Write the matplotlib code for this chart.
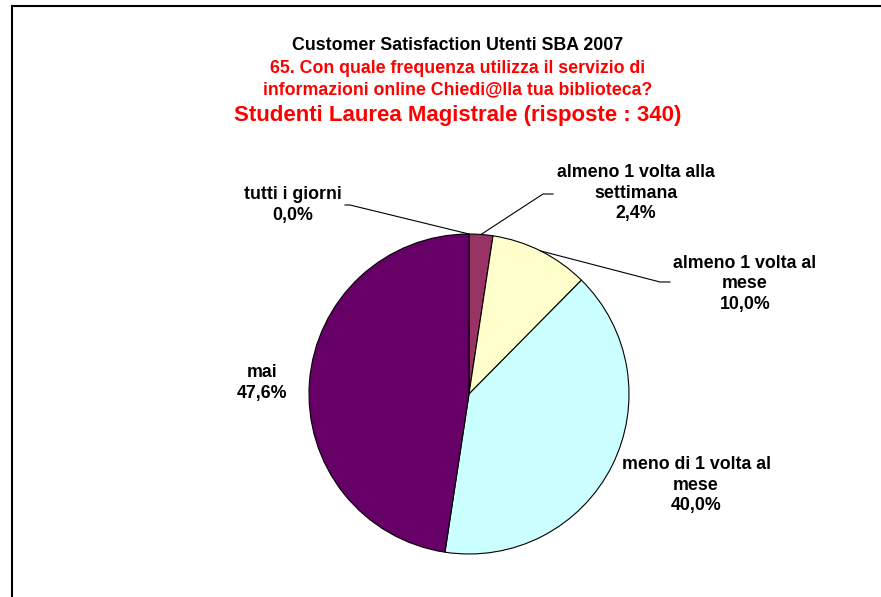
import numpy as np
import matplotlib
matplotlib.use("Agg")
import matplotlib.pyplot as plt
from matplotlib.lines import Line2D

plt.rcParams['font.family'] = ['Liberation Sans', 'DejaVu Sans']

# Data
categories = ['tutti i giorni', 'almeno 1 volta alla\nsettimana', 'almeno 1 volta al\nmese',
              'meno di 1 volta al\nmese', 'mai']
values = [0.0, 2.4, 10.0, 40.0, 47.6]
colors = ['#3366CC', '#993366', '#FFFFCC', '#CCFFFF', '#660066']

title_1 = 'Customer Satisfaction Utenti SBA 2007'
title_2 = '65. Con quale frequenza utilizza il servizio di\ninformazioni online Chiedi@lla tua biblioteca?'
title_3 = 'Studenti Laurea Magistrale (risposte : 340)'

W, H = 881, 597
fig = plt.figure(figsize=(W / 100, H / 100), dpi=100)

# pie centre / radius in pixels
cx, cy, r = 469, 394, 160
ax = fig.add_axes([(cx - r) / W, (H - cy - r) / H, 2 * r / W, 2 * r / H])
ax.pie(values, colors=colors, startangle=90, counterclock=False,
       wedgeprops=dict(edgecolor='black', linewidth=0.8))
ax.set_xlim(-1, 1)
ax.set_ylim(-1, 1)
ax.set_aspect('equal')
ax.axis('off')


def px(x, y):
    # pixel -> data coords of the pie axes
    return (x - cx) / r, (cy - y) / r


# label positions (pixel) and leader elbow points
label_pos = [(293, 205), (636, 193), (745, 284), (696, 485), (262, 383)]
elbows = [[(345, 205), (350, 205)], [(553, 194), (543, 194)], [(670, 282), (660, 282)], None, None]

cum = np.cumsum([0] + values)
total = sum(values)
for i, cat in enumerate(categories):
    pct = ('%.1f' % values[i]).replace('.', ',') + '%'
    lx, ly = px(*label_pos[i])
    ax.text(lx, ly, cat + '\n' + pct, ha='center', va='center', fontsize=12.8,
            fontweight='bold', linespacing=1.3, clip_on=False)
    if elbows[i] is not None:
        mid = 90 - (cum[i] + values[i] / 2) / total * 360
        ex, ey = np.cos(np.radians(mid)), np.sin(np.radians(mid))
        pts = [px(*p) for p in elbows[i]] + [(ex, ey)]
        ax.plot([p[0] for p in pts], [p[1] for p in pts], color='black', lw=0.8, clip_on=False)

fig.text(458 / W, 1 - 45 / H, title_1, ha='center', va='center', fontsize=12.8, fontweight='bold')
fig.text(458 / W, 1 - 79 / H, title_2, ha='center', va='center', fontsize=12.8, fontweight='bold',
         color='#FF0000', linespacing=1.3)
fig.text(458 / W, 1 - 116 / H, title_3, ha='center', va='center', fontsize=16, fontweight='bold',
         color='#FF0000')

# chart area border (top and left only visible)
fig.add_artist(Line2D([12 / W, 1], [1 - 6 / H, 1 - 6 / H], color='black', lw=1.5))
fig.add_artist(Line2D([12 / W, 12 / W], [0, 1 - 6 / H], color='black', lw=1.5))

fig.savefig('out.png', dpi=100, facecolor='white')
